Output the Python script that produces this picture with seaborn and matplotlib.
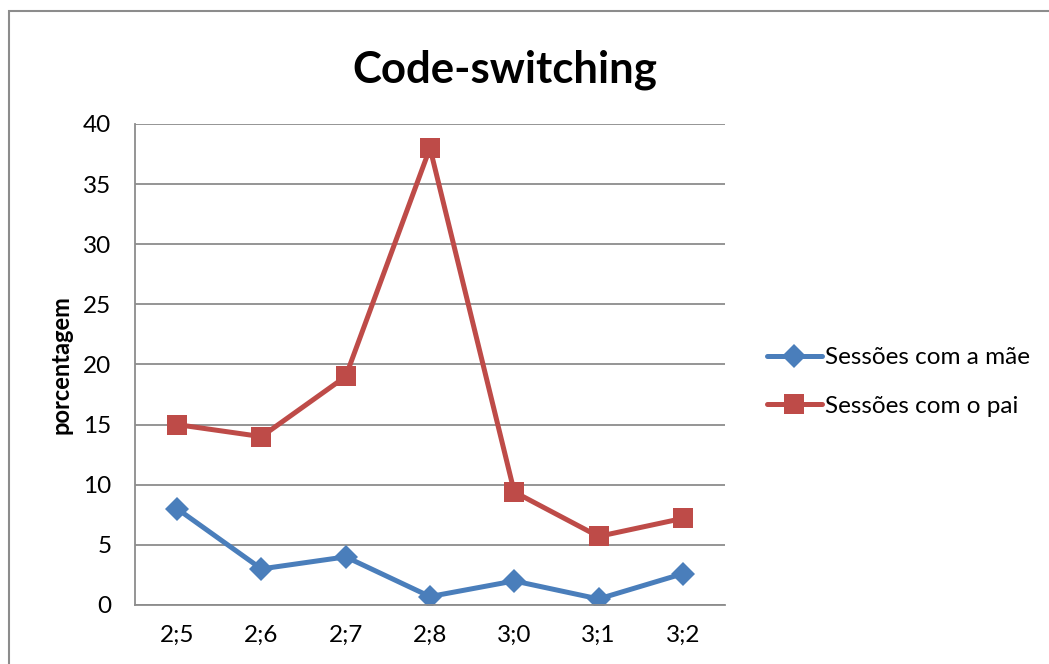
import matplotlib
matplotlib.use('Agg')
import matplotlib.pyplot as plt
import pandas as pd
import seaborn as sns
from matplotlib.patches import Rectangle

# values
idades = ['2;5', '2;6', '2;7', '2;8', '3;0', '3;1', '3;2']
mae = [8, 3, 4, 0.7, 2, 0.5, 2.6]
pai = [15, 14, 19, 38, 9.4, 5.7, 7.2]
series = ['Sessões com a mãe', 'Sessões com o pai']

df = pd.concat([
    pd.DataFrame({'idade': idades, 'valor': mae, 'serie': series[0]}),
    pd.DataFrame({'idade': idades, 'valor': pai, 'serie': series[1]}),
], ignore_index=True)

sns.set_style('white')
plt.rcParams['font.family'] = ['Lato', 'DejaVu Sans']
plt.rcParams['text.color'] = 'black'
plt.rcParams['xtick.color'] = 'black'
plt.rcParams['ytick.color'] = 'black'
plt.rcParams['axes.labelcolor'] = 'black'

fig = plt.figure(figsize=(10.49, 6.64), dpi=100)
ax = fig.add_axes([0.1287, 0.0889, 0.5624, 0.7244])

sns.lineplot(data=df, x='idade', y='valor', hue='serie', style='serie',
             palette=['#4A7EBB', '#BE4B48'], markers=['D', 's'], dashes=False,
             linewidth=3.6, markersize=12, markeredgewidth=0, sort=False, ax=ax)
# squares are a bit larger than the diamonds
ax.lines[1].set_markersize(14.5)

ax.set_xlim(-0.5, 6.5)
ax.set_ylim(0, 40)
ax.set_yticks(range(0, 41, 5))
ax.yaxis.grid(True, color='#8C8C8C', linewidth=1.3)
ax.set_axisbelow(True)
for s in ['top', 'right']:
    ax.spines[s].set_visible(False)
for s in ['left', 'bottom']:
    ax.spines[s].set_color('#8C8C8C')
    ax.spines[s].set_linewidth(1.3)
ax.tick_params(length=0, labelsize=17.5)
ax.tick_params(axis='y', pad=17)
ax.tick_params(axis='x', pad=14)
ax.set_xlabel('')
ax.set_ylabel('porcentagem', fontsize=17, fontweight='bold', labelpad=8)

fig.text(0.481, 1 - 70 / 664, 'Code-switching', ha='center', va='center',
         fontsize=31.5, fontweight='bold')

handles, labels = ax.get_legend_handles_labels()
leg = ax.legend(handles, labels, loc='center left', bbox_to_anchor=(0.731, 0.4247),
                bbox_transform=fig.transFigure, frameon=False, fontsize=17.5,
                handlelength=2.25, handletextpad=0.15, labelspacing=1.15,
                borderaxespad=0, borderpad=0)
leg.legend_handles[1].set_markersize(14.5)

# outer chart border (runs past the right/bottom edge)
fig.patches.append(Rectangle((9 / 1049, -0.05), 1.2, 1 - 11 / 664 + 0.05,
                             transform=fig.transFigure, fill=False,
                             edgecolor='#8C8C8C', linewidth=1.5))

fig.savefig('out.png', dpi=100)
